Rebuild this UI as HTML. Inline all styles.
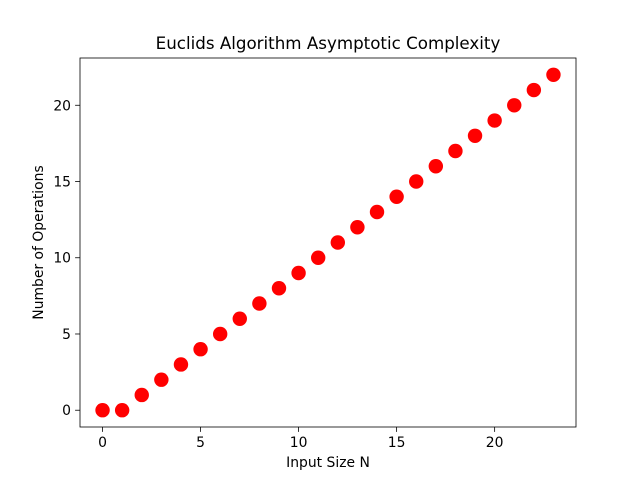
<!DOCTYPE html>
<html><head><meta charset="utf-8"><style>body{margin:0;background:#fff}svg{display:block;font-family:"DejaVu Sans","Liberation Sans",sans-serif}</style></head>
<body>
<svg id="chart" width="640" height="480">
<rect width="640" height="480" fill="#fff"/>
<text x="328" y="49" text-anchor="middle" font-size="16.7">Euclids Algorithm Asymptotic Complexity</text>
<g id="ticks"></g>
<g id="points"></g>
<rect x="80" y="58" width="496" height="369" fill="none" stroke="#000" stroke-width="0.8"/>
<text x="328" y="467" text-anchor="middle" font-size="13.9">Input Size N</text>
<text transform="translate(43,242.5) rotate(-90)" text-anchor="middle" font-size="13.9">Number of Operations</text>
</svg>
<script>
const xValues=[0,1,2,3,4,5,6,7,8,9,10,11,12,13,14,15,16,17,18,19,20,21,22,23];
const yValues=[0,0,1,2,3,4,5,6,7,8,9,10,11,12,13,14,15,16,17,18,19,20,21,22];
const xTicks=[0,5,10,15,20];
const yTicks=[0,5,10,15,20];
const NS="http://www.w3.org/2000/svg";
const L=80,R=576,T=58,B=427;
const xmin=Math.min(...xValues),xmax=Math.max(...xValues),ymin=Math.min(...yValues),ymax=Math.max(...yValues);
const xm=(xmax-xmin)*0.05,ym=(ymax-ymin)*0.05;
const sx=v=>L+(v-(xmin-xm))/((xmax+xm)-(xmin-xm))*(R-L);
const sy=v=>B-(v-(ymin-ym))/((ymax+ym)-(ymin-ym))*(B-T);
const tg=document.getElementById('ticks'),pg=document.getElementById('points');
function mk(t,a){const e=document.createElementNS(NS,t);for(const k in a)e.setAttribute(k,a[k]);return e;}
xTicks.forEach(v=>{const x=sx(v);
const l=mk('line',{x1:x,x2:x,y1:B,y2:B+4.9,stroke:'#000','stroke-width':0.8});

tg.appendChild(l);
const t=mk('text',{x:x,y:B+20,'text-anchor':'middle','font-size':13.9});t.textContent=v;

tg.appendChild(t);});
yTicks.forEach(v=>{const y=sy(v);
const l=mk('line',{x1:L-4.9,x2:L,y1:y,y2:y,stroke:'#000','stroke-width':0.8});

tg.appendChild(l);
const t=mk('text',{x:L-9,y:y+5,'text-anchor':'end','font-size':13.9});t.textContent=v;

tg.appendChild(t);});
xValues.forEach((v,i)=>{const c=mk('circle',{cx:sx(v),cy:sy(yValues[i]),r:7.2,fill:'#ff0000'});

pg.appendChild(c);});
</script>
</body></html>
